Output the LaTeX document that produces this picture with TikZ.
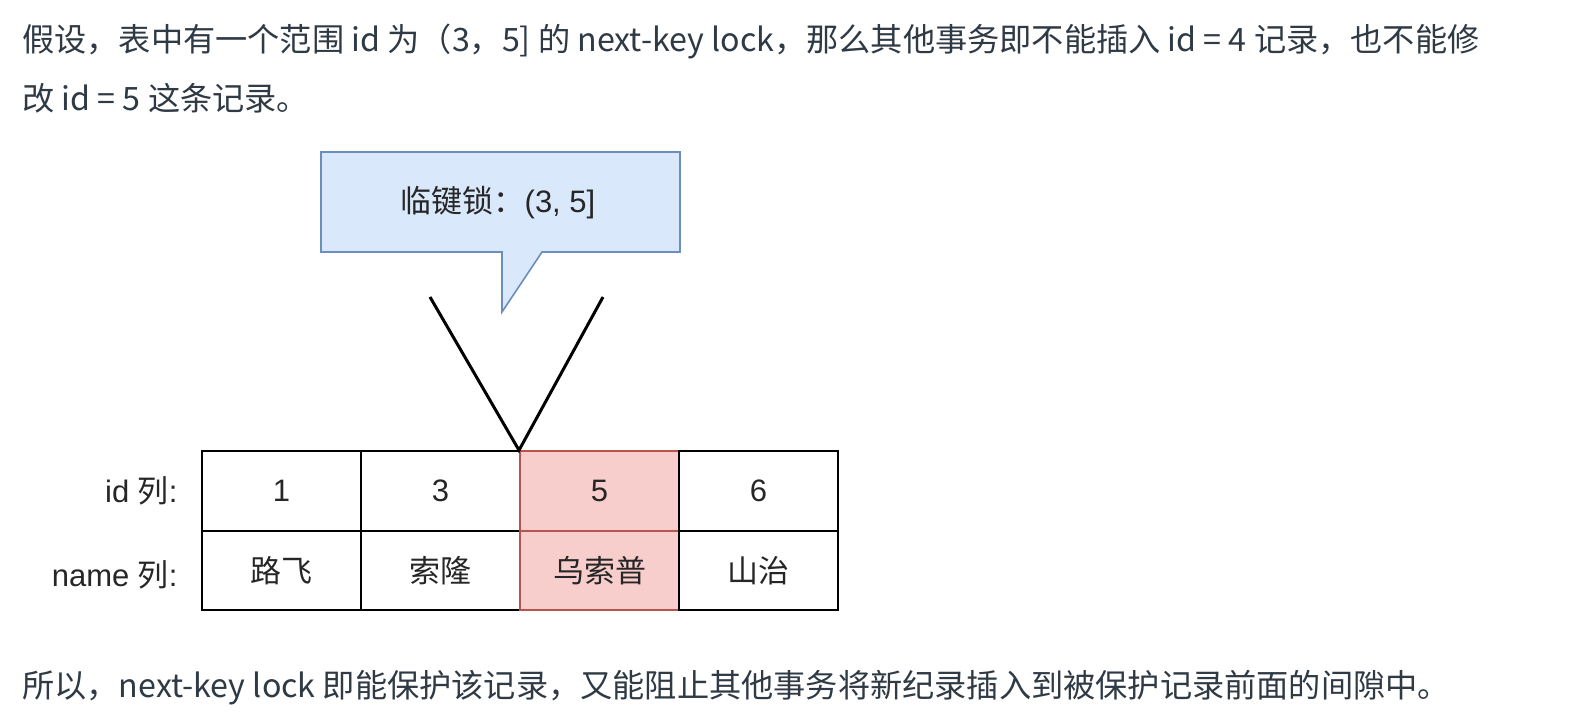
\documentclass[tikz,border=0pt]{standalone}
\usepackage{fontspec}
\setmainfont{Noto Sans CJK SC}
\newfontfamily\cjk{Noto Sans CJK SC}
\newfontfamily\lat{Liberation Sans}
\usetikzlibrary{positioning}
\definecolor{txtgray}{HTML}{2F3A45}
\definecolor{calloutfill}{HTML}{DAE8FC}
\definecolor{calloutline}{HTML}{6C8EBF}
\definecolor{lockfill}{HTML}{F8CECC}
\definecolor{lockline}{HTML}{B85450}
\tikzset{
  para/.style={anchor=west,inner sep=0,text=txtgray,font=\fontsize{16.1}{19}\selectfont},
  diag/.style={text=black!85,font=\lat\fontsize{15.5}{18}\selectfont},
  cell/.style={diag,draw,line width=1pt,minimum width=79.5pt,minimum height=39.75pt,inner sep=0},
  rowlabel/.style={diag,anchor=east,inner sep=0}
}
\begin{document}
\begin{tikzpicture}[x=0.5pt,y=-0.5pt]
      \useasboundingbox[fill=white] (0,0) rectangle (1576,728);

      % text above and below
      \node[para] (top1) at (22,41) {假设，表中有一个范围 id 为（3，5] 的 next-key lock，那么其他事务即不能插入 id = 4 记录，也不能修};
      \node[para] (top2) at (22,98) {改 id = 5 这条记录。};
      \node[para] (bottom) at (22,688) {所以，next-key lock 即能保护该记录，又能阻止其他事务将新纪录插入到被保护记录前面的间隙中。};

      % callout
      \path[draw=calloutline,fill=calloutfill,line width=0.8pt]
        (321,152) -- (680,152) -- (680,252) -- (542,252) -- (502,312)
        -- (502,252) -- (321,252) -- cycle;
      \node[diag] (lock) at (498,203) {{\cjk 临键锁：}(3, 5]};

      % table
      \def \Cells {
        1/1/路飞/white/black,
        2/3/索隆/white/black,
        3/5/乌索普/lockfill/lockline,
        4/6/山治/white/black}

      \foreach \i / \id / \name / \bg / \fg in \Cells {
        \node[cell,fill=\bg,draw=\fg] (id\i) at (122.5+159*\i,491) {\id};
        \node[cell,fill=\bg,draw=\fg] (nm\i) at (122.5+159*\i,570.5) {\cjk\name};
      }
      \node[rowlabel] (idlabel) at (178,491) {id {\cjk 列}:};
      \node[rowlabel] (nmlabel) at (178,575) {name {\cjk 列}:};

      % V pointing at the gap before 5
      \coordinate (vl) at (430,297);
      \coordinate (vr) at (603,297);
      \draw[line width=1.5pt] (vl) -- (id3.north west) -- (vr);
    \end{tikzpicture}
\end{document}
